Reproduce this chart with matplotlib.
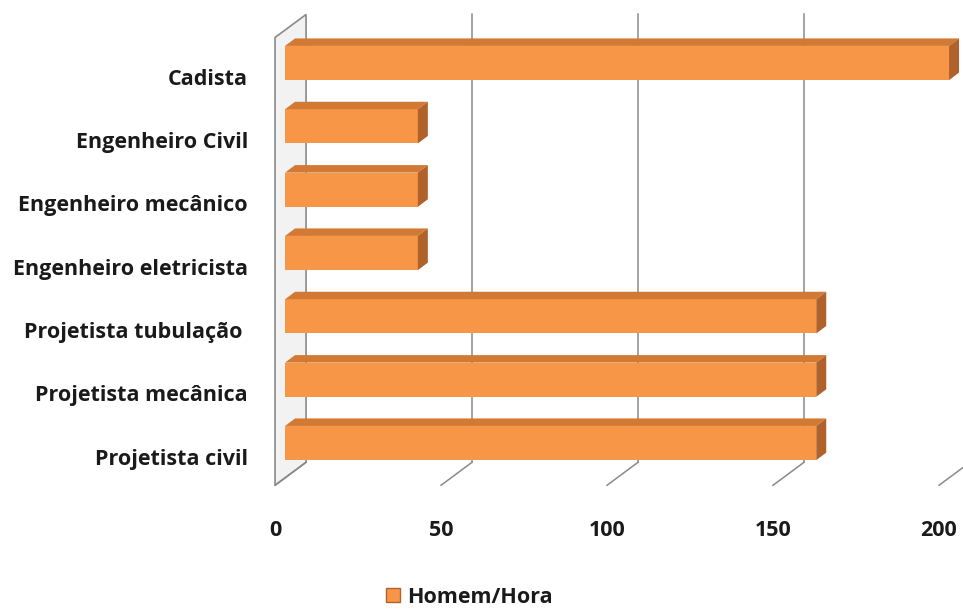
import matplotlib
matplotlib.use('Agg')
import matplotlib.pyplot as plt
from matplotlib.transforms import offset_copy, blended_transform_factory, IdentityTransform
from matplotlib.patches import Polygon, Patch

# data (bottom to top)
categories = ['Projetista civil', 'Projetista mecânica', 'Projetista tubulação ',
              'Engenheiro eletricista', 'Engenheiro mecânico', 'Engenheiro Civil', 'Cadista']
hours = [160, 160, 160, 40, 40, 40, 200]
ticks = [0, 50, 100, 150, 200]
series_name = 'Homem/Hora'

plt.rcParams['font.family'] = ['Open Sans', 'DejaVu Sans']
txt_c = '#1a1a1a'
face_c = '#F79646'
top_c = '#D27A34'
side_c = '#B0622A'
grid_c = '#8a8a8a'
fs = 15.5

fig = plt.figure(figsize=(9.63, 6.10), dpi=100)
ax = fig.add_axes([0.296, 0.2218, 0.6895, 0.7268])
ax.set_xlim(0, 200)
ax.set_ylim(-0.5, 6.5)
ax.axis('off')

# fake 3d depth, in pixels
back = offset_copy(ax.transData, fig=fig, x=21, y=15.6, units='dots')
front = offset_copy(ax.transData, fig=fig, x=-10, y=-7.4, units='dots')
ybot, ytop = -0.55, 6.52
ident = IdentityTransform()

# side wall strip at x = 0
pts = [back.transform((0, ybot)), back.transform((0, ytop)),
       front.transform((0, ytop)), front.transform((0, ybot))]
ax.add_patch(Polygon(pts, closed=True, transform=ident, facecolor='#f2f2f2',
                     edgecolor=grid_c, lw=1.2, zorder=1, clip_on=False))

# back wall gridlines + floor stubs
for v in ticks:
    if v > 0:
        ax.plot([v, v], [ybot, ytop], transform=back, color=grid_c, lw=1.1,
                clip_on=False, zorder=1.5)
    a = back.transform((v, ybot))
    b = front.transform((v, ybot))
    ax.plot([a[0], b[0]], [a[1], b[1]], transform=ident, color=grid_c, lw=1.1,
            clip_on=False, zorder=1.5)

# bars
h = 0.54
dx, dy = 10, 7.5
for i, v in enumerate(hours):
    ax.barh(i, v, height=h, color=face_c, zorder=3, clip_on=False)
    p0 = ax.transData.transform((0, i + h / 2))
    p1 = ax.transData.transform((v, i + h / 2))
    p2 = ax.transData.transform((v, i - h / 2))
    top = [p0, p1, (p1[0] + dx, p1[1] + dy), (p0[0] + dx, p0[1] + dy)]
    side = [p2, p1, (p1[0] + dx, p1[1] + dy), (p2[0] + dx, p2[1] + dy)]
    ax.add_patch(Polygon(top, closed=True, transform=ident, facecolor=top_c,
                         edgecolor='none', zorder=3, clip_on=False))
    ax.add_patch(Polygon(side, closed=True, transform=ident, facecolor=side_c,
                         edgecolor='none', zorder=3, clip_on=False))

# category labels
lab_tr = offset_copy(blended_transform_factory(fig.transFigure, ax.transData),
                     fig=fig, x=0, y=-16, units='dots')
for i, c in enumerate(categories):
    ax.text(0.2575, i, c, transform=lab_tr, ha='right', va='center',
            fontsize=fs, fontweight='bold', color=txt_c)

# value tick labels
tick_tr = blended_transform_factory(front, fig.transFigure)
for v in ticks:
    ax.text(v, 0.131, str(v), transform=tick_tr, ha='center', va='center',
            fontsize=fs, fontweight='bold', color=txt_c)

fig.legend(handles=[Patch(facecolor=face_c, edgecolor=side_c)], labels=[series_name],
           loc='center', bbox_to_anchor=(0.4875, 0.021), frameon=False,
           handlelength=0.65, handleheight=0.65, handletextpad=0.3,
           prop={'weight': 'bold', 'size': fs})
for t in fig.legends[0].get_texts():
    t.set_color(txt_c)

fig.savefig('out.png', dpi=100)
